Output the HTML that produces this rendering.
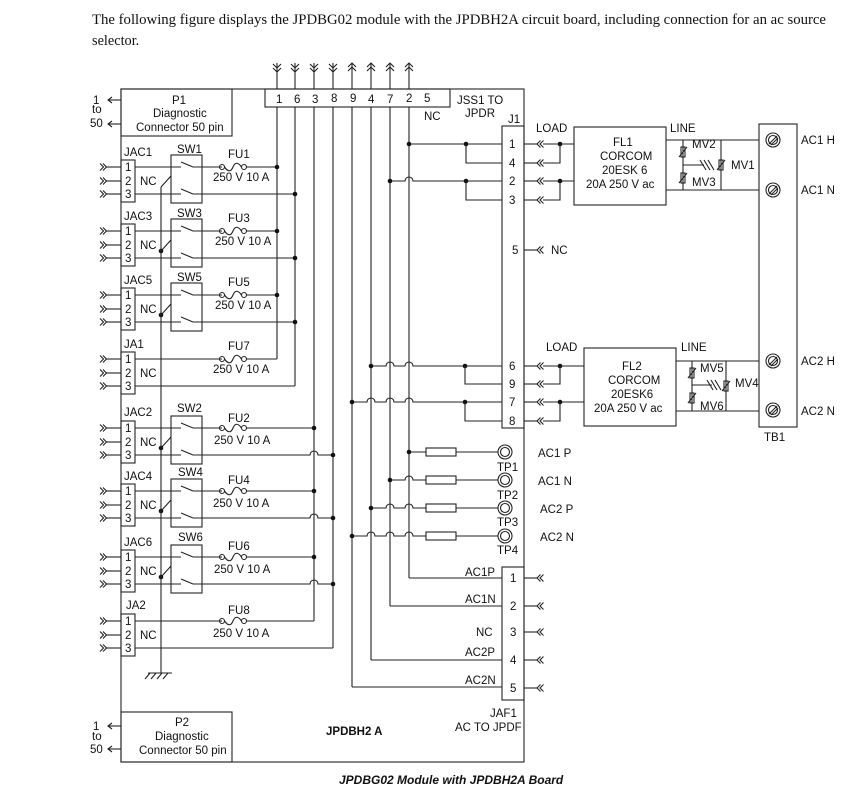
<!DOCTYPE html>
<html><head><meta charset="utf-8"><style>
html,body{margin:0;padding:0;background:#fff;}
svg{display:block;}
text{font-family:"Liberation Sans",sans-serif;font-size:11.5px;fill:#111;}
.s{font-family:"Liberation Serif",serif;font-size:14.3px;}
</style></head><body>
<svg id="sv" width="859" height="803" viewBox="0 0 859 803" xmlns="http://www.w3.org/2000/svg">
<g id="g" stroke="#222" stroke-width="1.1" fill="none"></g>
<text class="s" x="92" y="24" textLength="734" lengthAdjust="spacingAndGlyphs">The following figure displays the JPDBG02 module with the JPDBH2A circuit board, including connection for an ac source</text>
<text class="s" x="92" y="45">selector.</text>
<text x="276" y="103">1</text><text x="294" y="103">6</text><text x="312" y="103">3</text><text x="331" y="102">8</text><text x="350" y="102">9</text><text x="368" y="103">4</text><text x="387" y="103">7</text><text x="406" y="102">2</text><text x="424" y="102">5</text>
<text x="424" y="120">NC</text><text x="457" y="104">JSS1 TO</text><text x="465" y="117">JPDR</text><text x="508" y="123">J1</text>
<text x="172" y="104">P1</text><text x="153" y="117">Diagnostic</text><text x="136" y="131">Connector 50 pin</text>
<text x="93" y="104">1</text><text x="92" y="113">to</text><text x="90" y="127">50</text>
<text x="175" y="726">P2</text><text x="155" y="740">Diagnostic</text><text x="139" y="754">Connector 50 pin</text>
<text x="93" y="730">1</text><text x="92" y="740">to</text><text x="90" y="753">50</text>
<text x="326" y="735" style="font-weight:bold">JPDBH2 A</text>
<text x="490" y="717">JAF1</text><text x="455" y="731">AC TO JPDF</text>
<text x="339" y="784" style="font-weight:bold;font-style:italic;font-size:12px">JPDBG02 Module with JPDBH2A Board</text>
<text x="124" y="156">JAC1</text><text x="125" y="171">1</text><text x="125" y="185">2</text><text x="125" y="198">3</text><text x="140" y="185">NC</text><text x="177" y="153">SW1</text><text x="228" y="158">FU1</text><text x="213" y="181">250 V 10 A</text>
<text x="124" y="220">JAC3</text><text x="125" y="235">1</text><text x="125" y="249">2</text><text x="125" y="262">3</text><text x="140" y="249">NC</text><text x="177" y="217">SW3</text><text x="228" y="222">FU3</text><text x="215" y="245">250 V 10 A</text>
<text x="124" y="284">JAC5</text><text x="125" y="299">1</text><text x="125" y="313">2</text><text x="125" y="326">3</text><text x="140" y="313">NC</text><text x="177" y="281">SW5</text><text x="228" y="286">FU5</text><text x="215" y="309">250 V 10 A</text>
<text x="124" y="348">JA1</text><text x="125" y="363">1</text><text x="125" y="377">2</text><text x="125" y="390">3</text><text x="140" y="377">NC</text><text x="228" y="350">FU7</text><text x="213" y="373">250 V 10 A</text>
<text x="124" y="416">JAC2</text><text x="125" y="432">1</text><text x="125" y="446">2</text><text x="125" y="459">3</text><text x="140" y="446">NC</text><text x="177" y="412">SW2</text><text x="228" y="422">FU2</text><text x="214" y="444">250 V 10 A</text>
<text x="124" y="480">JAC4</text><text x="125" y="495">1</text><text x="125" y="509">2</text><text x="125" y="522">3</text><text x="140" y="509">NC</text><text x="178" y="476">SW4</text><text x="228" y="484">FU4</text><text x="213" y="507">250 V 10 A</text>
<text x="124" y="546">JAC6</text><text x="125" y="561">1</text><text x="125" y="575">2</text><text x="125" y="588">3</text><text x="140" y="575">NC</text><text x="178" y="541">SW6</text><text x="228" y="550">FU6</text><text x="214" y="573">250 V 10 A</text>
<text x="126" y="609">JA2</text><text x="125" y="625">1</text><text x="125" y="639">2</text><text x="125" y="652">3</text><text x="140" y="639">NC</text><text x="228" y="614">FU8</text><text x="213" y="637">250 V 10 A</text>
<text x="509" y="148">1</text><text x="509" y="167">4</text><text x="509" y="185">2</text><text x="509" y="204">3</text><text x="512" y="254">5</text>
<text x="509" y="370">6</text><text x="509" y="388">9</text><text x="509" y="406">7</text><text x="509" y="425">8</text>
<text x="551" y="254">NC</text>
<text x="536" y="132">LOAD</text><text x="670" y="132">LINE</text>
<text x="546" y="351">LOAD</text><text x="681" y="351">LINE</text>
<text x="613" y="146">FL1</text><text x="600" y="160">CORCOM</text><text x="602" y="174">20ESK 6</text><text x="586" y="188">20A   250 V ac</text>
<text x="622" y="370">FL2</text><text x="608" y="384">CORCOM</text><text x="611" y="398">20ESK6</text><text x="594" y="412">20A  250 V ac</text>
<text x="692" y="148">MV2</text><text x="692" y="186">MV3</text><text x="731" y="169">MV1</text>
<text x="700" y="372">MV5</text><text x="700" y="410">MV6</text><text x="735" y="387">MV4</text>
<text x="801" y="144">AC1 H</text><text x="801" y="194">AC1 N</text><text x="801" y="365">AC2 H</text><text x="801" y="415">AC2 N</text>
<text x="764" y="441">TB1</text>
<text x="497" y="471">TP1</text><text x="497" y="499">TP2</text><text x="497" y="526">TP3</text><text x="497" y="554">TP4</text>
<text x="538" y="457">AC1 P</text><text x="538" y="485">AC1 N</text><text x="540" y="513">AC2 P</text><text x="540" y="541">AC2 N</text>
<text x="465" y="576">AC1P</text><text x="465" y="603">AC1N</text><text x="476" y="636">NC</text><text x="465" y="656">AC2P</text><text x="465" y="684">AC2N</text>
<text x="510" y="582">1</text><text x="510" y="610">2</text><text x="510" y="636">3</text><text x="510" y="664">4</text><text x="510" y="692">5</text>
</svg>
<script>
var s='';
function L(a,b,c,d){s+='<line x1="'+a+'" y1="'+b+'" x2="'+c+'" y2="'+d+'"/>';}
function R(x,y,w,h){s+='<rect x="'+x+'" y="'+y+'" width="'+w+'" height="'+h+'"/>';}
function D(x,y){s+='<circle cx="'+x+'" cy="'+y+'" r="2.3" fill="#111" stroke="none"/>';}
function C(x,y,r){s+='<circle cx="'+x+'" cy="'+y+'" r="'+r+'"/>';}
function P(d){s+='<path d="'+d+'"/>';}
function H(y,x1,x2,hops){var d='M'+x1+' '+y;hops=(hops||[]).slice().sort(function(a,b){return a-b});hops.forEach(function(h){d+=' L'+(h-4)+' '+y+' a4 4 0 0 1 8 0';});d+=' L'+x2+' '+y;P(d);}
function chR(x,y){P('M'+x+' '+(y-3.5)+' l3.5 3.5 l-3.5 3.5 M'+(x+3)+' '+(y-3.5)+' l3.5 3.5 l-3.5 3.5');}
function chL(x,y){P('M'+(x+3.5)+' '+(y-3.5)+' l-3.5 3.5 l3.5 3.5 M'+(x+6.5)+' '+(y-3.5)+' l-3.5 3.5 l3.5 3.5');}
function chD(x,y){P('M'+(x-4)+' '+y+' l4 4 l4 -4 M'+(x-4)+' '+(y+4)+' l4 4 l4 -4');}
function chU(x,y){P('M'+(x-4)+' '+(y+4)+' l4 -4 l4 4 M'+(x-4)+' '+(y+8)+' l4 -4 l4 4');}
function fuse(x,y){C(x,y,2.5);C(x+22,y,2.5);P('M'+(x+2.5)+' '+y+' C'+(x+6)+' '+(y+5)+' '+(x+9)+' '+(y+5)+' '+(x+11)+' '+y+' C'+(x+13)+' '+(y-5)+' '+(x+16)+' '+(y-5)+' '+(x+19.5)+' '+y);}
function mov(x,y){R(x-2,y-5,4,10);L(x-4,y+5,x+4,y-5);}
function screw(x,y){C(x,y,7);C(x,y,4.5);L(x-4,y+4,x+4,y-4);L(x-2,y+5,x+5,y-2);}
R(121,89,403,673);
R(265,89,185,18);
R(121,89,111,47);
R(121,712,111,50);
[100,124,726,749].forEach(function(y){L(108,y,121,y);P('M112 '+(y-3)+' l-4 3 l4 3');});
var V=[[277,359],[295,386],[314,621],[333,648],[352,687],[371,660],[390,606],[409,578]];
V.forEach(function(v,i){L(v[0],63,v[0],89);L(v[0],107,v[0],v[1]);if(i<4)chD(v[0],64);else chU(v[0],63);});
var B=[[167,1,277,295,0,0],[231,1,277,295,0,0],[295,1,277,295,0,0],[359,0,277,295,0,1],[428,1,314,333,1,0],[491,1,314,333,1,0],[557,1,314,333,1,0],[621,0,314,333,0,1]];
B.forEach(function(b,i){var p=b[0],p3=p+27;
 R(121,p-7,14,42);
 [p,p+14,p3].forEach(function(y){chR(100,y);L(106,y,121,y);});
 if(b[1]){R(171,p-12,31,48);L(135,p,181,p);L(181,p-5,193,p);L(193,p,222,p);
   L(135,p3,181,p3);L(181,p3-5,193,p3);H(p3,193,b[3],b[4]?[314]:[]);
   L(161,p+20,171,p+9);if(i>0)D(161,p+20);}
 else{L(135,p,222,p);H(p3,135,b[3],b[4]?[314]:[]);}
 fuse(222,p);L(247,p,b[2],p);
 if(!b[5]){D(b[2],p);D(b[3],p3);}
});
L(161,187,161,673);L(148,673,172,673);[150,156,162,168].forEach(function(x){L(x,673,x-5,679);});
R(502,126,22,302);
H(144,409,502);D(409,144);D(466,144);P('M466 144 V163 H502');
H(181,390,502,[409]);D(390,181);D(466,181);P('M466 181 V200 H502');
H(366,371,502,[390,409]);D(371,366);D(465,366);P('M465 366 V384 H502');
H(402,352,502,[371,390,409]);D(352,402);D(465,402);P('M465 402 V421 H502');
[144,163,181,200,250,366,384,402,421].forEach(function(y){L(524,y,537,y);chL(537,y);});
L(543,144,574,144);D(560,144);P('M560 144 V163 H543');
L(543,181,574,181);D(560,181);P('M560 181 V200 H543');
L(543,366,584,366);D(560,366);P('M560 366 V384 H543');
L(543,402,584,402);D(560,402);P('M560 402 V421 H543');
R(574,127,92,78);
L(666,140,759,140);L(666,190,759,190);
L(683,140,683,190);L(683,165,704,165);L(721,140,721,190);
mov(683,152);mov(683,178);mov(721,165);
[0,4,8].forEach(function(d){L(700+d,160,706+d,170);});
R(584,348,92,78);
L(676,361,759,361);L(676,411,759,411);
L(692,361,692,411);L(692,385,712,385);L(726,361,726,411);
mov(692,373);mov(692,398);mov(726,386);
[0,4,8].forEach(function(d){L(707+d,380,713+d,390);});
R(759,124,38,303);
screw(773,140);screw(773,190);screw(773,361);screw(773,410);
[[452,409,[]],[480,390,[409]],[508,371,[390,409]],[536,352,[371,390,409]]].forEach(function(t){
 H(t[0],t[1],426,t[2]);D(t[1],t[0]);R(426,t[0]-4,30,8);L(456,t[0],498,t[0]);C(505,t[0],7);C(505,t[0],4.5);});
R(502,567,22,133);
L(409,578,502,578);L(390,606,502,606);L(371,660,502,660);L(352,687,502,687);
[578,606,632,660,688].forEach(function(y){L(524,y,537,y);chL(537,y);});
document.getElementById('g').innerHTML=s;
</script>
</body></html>
